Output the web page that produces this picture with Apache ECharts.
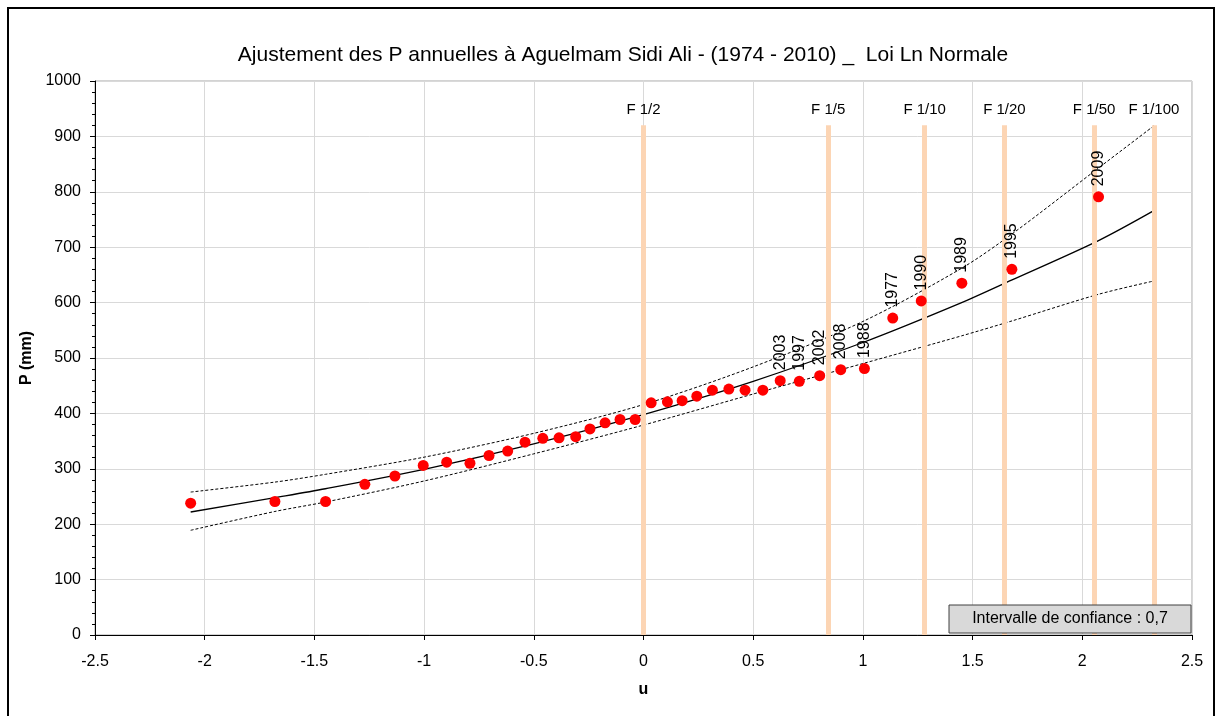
<!DOCTYPE html>
<html><head><meta charset="utf-8">
<script src="https://cdn.jsdelivr.net/npm/echarts@6/dist/echarts.min.js"></script>
<style>html,body{margin:0;padding:0;background:#fff}#c{width:1216px;height:716px}</style>
</head><body><div id="c"></div>
<script>
// Observed annual rainfall (sorted) vs reduced normal variable u
const obsU = [-2.064, -1.680, -1.449, -1.270, -1.133, -1.004, -0.897, -0.791, -0.704, -0.619, -0.540, -0.459, -0.385, -0.309, -0.244, -0.175, -0.107, -0.038,
              0.035, 0.109, 0.176, 0.243, 0.314, 0.389, 0.463, 0.544, 0.623, 0.710, 0.803, 0.899, 1.007, 1.136, 1.266, 1.451, 1.679, 2.074];
const obsP = [238, 241, 241, 272, 287, 306, 312, 310, 324, 332, 348, 355, 356, 358, 372, 383, 389, 389,
              419, 421, 423, 431, 442, 444, 442, 442, 459, 458, 468, 479, 481, 572, 603, 635, 660, 791];
const obsYear = ['', '', '', '', '', '', '', '', '', '', '', '', '', '', '', '', '', '',
                 '', '', '', '', '', '', '', '', '2003', '1997', '2002', '2008', '1988', '1977', '1990', '1989', '1995', '2009'];

// Fitted log-normal curve and confidence bounds
const fitU   = [-2.064, -1.680, -1.450, -1.000, -0.500, 0.000, 0.500, 1.000, 1.450, 1.680, 2.074, 2.326];
const fitP   = [222, 248, 264, 299, 345, 398, 458, 528, 600, 641, 712, 766];
const upperP = [258, 276, 290, 321, 364, 416, 484, 566, 662, 724, 843, 919];
const lowerP = [189, 223, 240, 278, 327, 379, 435, 490, 540, 567, 615, 639];

// Return-period frequency lines
const freqU = [0, 0.8416, 1.2816, 1.6449, 2.0537, 2.3263];
const freqLabels = ['F 1/2', 'F 1/5', 'F 1/10', 'F 1/20', 'F 1/50', 'F 1/100'];
const freqTop = 920;

const titleText = 'Ajustement des P annuelles à Aguelmam Sidi Ali - (1974 - 2010) _  Loi Ln Normale';
const noteText = 'Intervalle de confiance : 0,7';

const zip = (a, b) => a.map((v, i) => [v, b[i]]);
const font = 'Liberation Sans, Arial, sans-serif';

const chart = echarts.init(document.getElementById('c'), null, {renderer: 'canvas'});
chart.setOption({
  animation: false,
  backgroundColor: '#fff',
  title: {
    text: titleText, left: 618, textAlign: 'center', top: 40,
    textStyle: {fontFamily: font, fontSize: 21, fontWeight: 'normal', color: '#000'}
  },
  grid: {left: 95, right: 24, top: 81, bottom: 81, show: true, borderColor: '#A6A6A6', borderWidth: 1},
  xAxis: {
    type: 'value', min: -2.5, max: 2.5, interval: 0.5,
    name: 'u', nameLocation: 'middle', nameGap: 47,
    nameTextStyle: {fontFamily: font, fontSize: 16, fontWeight: 'bold', color: '#000'},
    axisLine: {show: true, onZero: false, lineStyle: {color: '#000', width: 1}},
    axisTick: {show: true, length: 5, lineStyle: {color: '#000'}},
    axisLabel: {fontFamily: font, fontSize: 16, color: '#000', margin: 19},
    splitLine: {show: true, lineStyle: {color: '#D9D9D9', width: 1}}
  },
  yAxis: {
    type: 'value', min: 0, max: 1000, interval: 100,
    name: 'P (mm)', nameLocation: 'middle', nameGap: 49, nameRotate: 90,
    nameTextStyle: {fontFamily: font, fontSize: 16, fontWeight: 'bold', color: '#000'},
    axisLine: {show: true, onZero: false, lineStyle: {color: '#000', width: 1}},
    axisTick: {show: true, length: 5, lineStyle: {color: '#000'}},
    minorTick: {show: true, splitNumber: 5, length: 3, lineStyle: {color: '#000'}},
    axisLabel: {fontFamily: font, fontSize: 16, color: '#000', margin: 14, formatter: v => String(v)},
    splitLine: {show: true, lineStyle: {color: '#D9D9D9', width: 1}}
  },
  series: [
    {type: 'line', data: zip(fitU, fitP), smooth: 0.3, symbol: 'none', z: 2,
     lineStyle: {color: '#000', width: 1.3}},
    {type: 'line', data: zip(fitU, upperP), smooth: 0.3, symbol: 'none', z: 2,
     lineStyle: {color: '#000', width: 1, type: [3, 2]}},
    {type: 'line', data: zip(fitU, lowerP), smooth: 0.3, symbol: 'none', z: 2,
     lineStyle: {color: '#000', width: 1, type: [3, 2]}},
    {type: 'line', data: [], z: 3,
     markLine: {
       silent: true, symbol: 'none',
       lineStyle: {color: '#FCD5B4', width: 5, type: 'solid'},
       label: {show: true, position: 'end', distance: 8, fontFamily: font, fontSize: 15, color: '#000',
               formatter: p => p.data.name},
       data: freqU.map((u, i) => [{coord: [u, 0], name: freqLabels[i]}, {coord: [u, freqTop]}])
     }},
    {type: 'scatter', data: zip(obsU, obsP), symbol: 'circle', symbolSize: 11, zlevel: 1, z: 4,
     itemStyle: {color: '#FF0000', opacity: 1},
     label: {show: true, position: 'top', distance: 5, rotate: 90, align: 'left', verticalAlign: 'middle',
             fontFamily: font, fontSize: 16, color: '#000', opacity: 1,
             formatter: p => obsYear[p.dataIndex]}}
  ],
  graphic: [
    {type: 'rect', shape: {x: 8, y: 8, width: 1206, height: 720}, style: {fill: 'none', stroke: '#000', lineWidth: 2}, z: 0, silent: true},
    {type: 'rect', zlevel: 2, shape: {x: 949, y: 605, width: 242, height: 28}, style: {fill: '#D9D9D9', stroke: '#404040', lineWidth: 1}, z: 100},
    {type: 'text', zlevel: 2, x: 1070, y: 619, style: {text: noteText, fontFamily: font, fontSize: 16, fill: '#000', align: 'center', verticalAlign: 'middle'}, z: 101}
  ]
});
</script></body></html>
